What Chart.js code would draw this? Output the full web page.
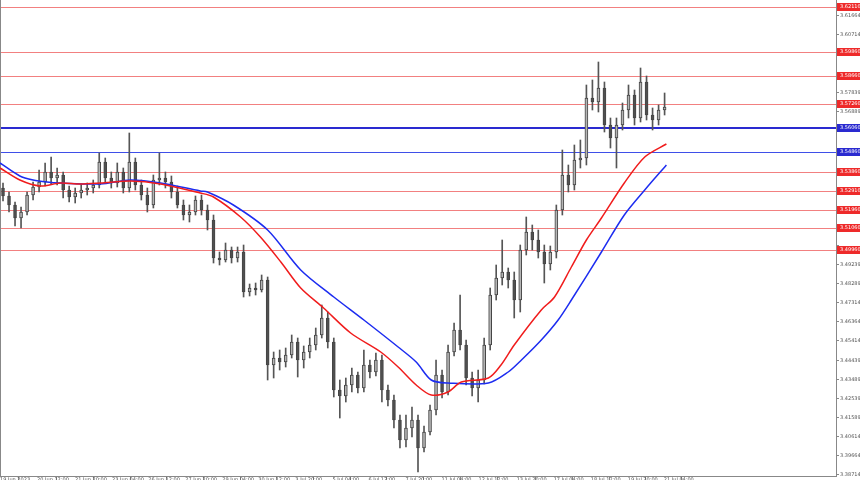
<!DOCTYPE html>
<html>
<head>
<meta charset="utf-8">
<script src="https://cdn.jsdelivr.net/npm/chart.js@4.4.0/dist/chart.umd.min.js"></script>
<style>
  html, body { margin: 0; padding: 0; background: #fff; }
  #wrap { width: 860px; height: 480px; }
</style>
</head>
<body>
<div id="wrap"><canvas id="chart" width="860" height="480"></canvas></div>
<script>
// candles, one per bar
const opens = [
  3.5306,3.5266,3.5221,3.5156,3.5186,3.5271,3.5311,3.5336,3.5386,3.5356,
  3.5371,3.5296,3.5261,3.5281,3.5296,3.5306,3.5321,3.5436,3.5356,3.5331,
  3.5386,3.5306,3.5436,3.5321,3.5271,3.5221,3.5346,3.5356,3.5336,3.5286,
  3.5221,3.5171,3.5186,3.5246,3.5196,3.5146,3.4956,3.4946,3.4996,3.4956,
  3.4986,3.4786,3.4806,3.4796,3.4846,3.4421,3.4456,3.4436,3.4471,3.4536,
  3.4446,3.4486,3.4521,3.4571,3.4656,3.4536,3.4296,3.4266,3.4321,3.4371,
  3.4306,3.4421,3.4386,3.4446,3.4296,3.4246,3.4146,3.4046,3.4106,3.4146,
  3.4006,3.4086,3.4196,3.4371,3.4286,3.4486,3.4596,3.4521,3.4356,3.4306,
  3.4346,3.4521,3.4771,3.4856,3.4886,3.4846,3.4746,3.4996,3.5086,3.5046,
  3.4986,3.4926,3.4986,3.5196,3.5371,3.5321,3.5446,3.5456,3.5756,3.5736,
  3.5806,3.5621,3.5556,3.5621,3.5696,3.5771,3.5656,3.5836,3.5671,3.5646,3.5696
];
const closes = [
  3.5266,3.5221,3.5156,3.5186,3.5271,3.5311,3.5336,3.5386,3.5356,3.5371,
  3.5296,3.5261,3.5281,3.5296,3.5306,3.5321,3.5436,3.5356,3.5331,3.5386,
  3.5306,3.5436,3.5321,3.5271,3.5221,3.5346,3.5356,3.5336,3.5286,3.5221,
  3.5171,3.5186,3.5246,3.5196,3.5146,3.4956,3.4946,3.4996,3.4956,3.4986,
  3.4786,3.4806,3.4796,3.4846,3.4421,3.4456,3.4436,3.4471,3.4536,3.4446,
  3.4486,3.4521,3.4571,3.4656,3.4536,3.4296,3.4266,3.4321,3.4371,3.4306,
  3.4421,3.4386,3.4446,3.4296,3.4246,3.4146,3.4046,3.4106,3.4146,3.4006,
  3.4086,3.4196,3.4371,3.4286,3.4486,3.4596,3.4521,3.4356,3.4306,3.4346,
  3.4521,3.4771,3.4856,3.4886,3.4846,3.4746,3.4996,3.5086,3.5046,3.4986,
  3.4926,3.4986,3.5196,3.5371,3.5321,3.5446,3.5456,3.5756,3.5736,3.5806,
  3.5621,3.5556,3.5621,3.5696,3.5771,3.5656,3.5836,3.5671,3.5646,3.5696,3.5711
];
const highs = [
  3.5331,3.5286,3.5236,3.5211,3.5286,3.5336,3.5396,3.5431,3.5461,3.5406,
  3.5386,3.5316,3.5306,3.5326,3.5331,3.5346,3.5481,3.5456,3.5386,3.5431,
  3.5406,3.5581,3.5456,3.5346,3.5306,3.5371,3.5481,3.5386,3.5366,3.5316,
  3.5246,3.5221,3.5266,3.5271,3.5221,3.5171,3.4986,3.5031,3.5011,3.5011,
  3.5021,3.4826,3.4831,3.4871,3.4861,3.4486,3.4496,3.4506,3.4571,3.4556,
  3.4516,3.4556,3.4606,3.4721,3.4686,3.4556,3.4346,3.4356,3.4406,3.4386,
  3.4496,3.4446,3.4481,3.4471,3.4321,3.4271,3.4171,3.4171,3.4211,3.4171,
  3.4116,3.4221,3.4446,3.4396,3.4521,3.4631,3.4771,3.4546,3.4386,3.4396,
  3.4556,3.4806,3.4921,3.5046,3.4906,3.4886,3.5021,3.5161,3.5121,3.5096,
  3.5021,3.5016,3.5221,3.5496,3.5421,3.5521,3.5546,3.5821,3.5846,3.5936,
  3.5836,3.5656,3.5656,3.5731,3.5821,3.5796,3.5906,3.5866,3.5706,3.5721,3.5781
];
const lows = [
  3.5241,3.5186,3.5116,3.5106,3.5171,3.5246,3.5286,3.5316,3.5326,3.5321,
  3.5256,3.5236,3.5231,3.5256,3.5271,3.5281,3.5306,3.5331,3.5306,3.5311,
  3.5281,3.5286,3.5296,3.5246,3.5186,3.5206,3.5321,3.5306,3.5256,3.5206,
  3.5146,3.5136,3.5171,3.5171,3.5096,3.4931,3.4921,3.4936,3.4931,3.4936,
  3.4761,3.4766,3.4771,3.4786,3.4346,3.4356,3.4396,3.4411,3.4456,3.4361,
  3.4406,3.4456,3.4496,3.4556,3.4506,3.4261,3.4156,3.4236,3.4286,3.4281,
  3.4286,3.4356,3.4366,3.4236,3.4216,3.4106,3.4006,3.4011,3.4061,3.3886,
  3.3986,3.4071,3.4171,3.4256,3.4271,3.4466,3.4496,3.4321,3.4266,3.4236,
  3.4326,3.4496,3.4746,3.4821,3.4806,3.4656,3.4686,3.4971,3.4996,3.4956,
  3.4831,3.4896,3.4956,3.5171,3.5286,3.5296,3.5406,3.5421,3.5696,3.5686,
  3.5586,3.5506,3.5406,3.5596,3.5656,3.5621,3.5636,3.5646,3.5596,3.5621,3.5671
];

// moving averages, points read at bar positions
const redMaX = [-0.5,2.8,6.2,9.5,12.8,16.2,21.2,26.2,32.8,35,39.5,42.8,46.2,49.5,53.3,57.8,62.8,65.7,68.7,71.2,74,76.2,80.7,82.8,85,89.5,91.7,94.5,97,99.5,103.3,106.7,110.3];
const redMa  = [3.5406,3.5346,3.5316,3.5331,3.5326,3.5331,3.5341,3.5326,3.5281,3.5261,3.5161,3.5061,3.4936,3.4806,3.4706,3.4581,3.4486,3.4411,3.4321,3.4271,3.4286,3.4336,3.4356,3.4421,3.4521,3.4696,3.4761,3.4911,3.5046,3.5156,3.5331,3.5461,3.5526];
const blueMaX = [-0.5,2.8,5,7.3,9.5,16.2,21.2,26.2,32.8,34,38.3,44,49.5,55,60,65.7,68.7,71.2,74,80.7,84,86.2,89.5,92.3,94.5,99.5,103.3,106.7,110.3];
const blueMa  = [3.5431,3.5366,3.5346,3.5336,3.5331,3.5326,3.5346,3.5331,3.5291,3.5286,3.5221,3.5096,3.4896,3.4761,3.4646,3.4511,3.4436,3.4346,3.4331,3.4331,3.4386,3.4446,3.4546,3.4646,3.4746,3.4986,3.5171,3.5296,3.5421];

// horizontal levels
const redLevels = [3.6211, 3.5986, 3.5866, 3.5726, 3.5386, 3.5291, 3.5196, 3.5106, 3.4996];
const blueLevels = [3.5606, 3.5486];

// axis ticks
const yTicks = [3.38714,3.39664,3.40614,3.41589,3.42539,3.43489,3.44439,3.45414,3.46364,3.47314,3.48289,3.49239,3.50189,3.51139,3.52114,3.53064,3.54014,3.54964,3.55939,3.56889,3.57839,3.58789,3.59764,3.60714,3.61664];
const xTickPos = [-0.5,5.66,11.99,18.14,24.14,30.3,36.46,42.45,48.61,54.77,60.76,66.92,72.91,79.07,85.4,91.56,97.72,103.88,109.87];
const xTickLabels = ['19 Jun 2023','20 Jun 12:00','21 Jun 20:00','23 Jun 04:00','26 Jun 12:00','27 Jun 20:00','29 Jun 04:00','30 Jun 12:00','3 Jul 20:00','5 Jul 04:00','6 Jul 12:00','7 Jul 20:00','11 Jul 04:00','12 Jul 12:00','13 Jul 20:00','17 Jul 04:00','18 Jul 12:00','19 Jul 20:00','21 Jul 04:00'];

const allLevels = redLevels.concat(blueLevels);

function hline(ctx, x1, x2, y, color, w) {
  ctx.strokeStyle = color;
  ctx.lineWidth = w;
  ctx.beginPath();
  ctx.moveTo(x1, y);
  ctx.lineTo(x2, y);
  ctx.stroke();
}

const levelsPlugin = {
  id: 'levels',
  beforeDatasetsDraw(chart) {
    const { ctx, chartArea: a, scales: { y } } = chart;
    ctx.save();
    redLevels.forEach(v => hline(ctx, a.left, a.right, Math.round(y.getPixelForValue(v)) + 0.5, '#f28080', 1));
    hline(ctx, a.left, a.right, Math.round(y.getPixelForValue(blueLevels[0])), '#2a2ad0', 2);
    hline(ctx, a.left, a.right, Math.round(y.getPixelForValue(blueLevels[1])) + 0.5, '#3f4fe8', 1);
    // left frame edge
    ctx.strokeStyle = '#888';
    ctx.lineWidth = 1;
    ctx.beginPath();
    ctx.moveTo(a.left + 0.5, a.top);
    ctx.lineTo(a.left + 0.5, a.bottom);
    ctx.stroke();
    ctx.restore();
  },
  afterDraw(chart) {
    const { ctx, chartArea: a, scales: { y } } = chart;
    ctx.save();
    ctx.font = '5px "DejaVu Sans"';
    ctx.textBaseline = 'middle';
    const box = (v, fill) => {
      const py = Math.round(y.getPixelForValue(v));
      ctx.fillStyle = fill;
      ctx.fillRect(a.right + 1, py - 4, 860 - a.right, 8);
      ctx.fillStyle = '#fff';
      ctx.fillText(v.toFixed(5), a.right + 4, py);
    };
    redLevels.forEach(v => box(v, '#ee2a2a'));
    blueLevels.forEach(v => box(v, '#2a2ad0'));
    ctx.restore();
  }
};

const ctx = document.getElementById('chart').getContext('2d');
new Chart(ctx, {
  type: 'bar',
  data: {
    datasets: [
      {
        type: 'line',
        data: redMaX.map((x, i) => ({ x: x, y: redMa[i] })),
        borderColor: '#f01c1c',
        borderWidth: 1.5,
        pointRadius: 0,
        tension: 0.3,
        order: 0
      },
      {
        type: 'line',
        data: blueMaX.map((x, i) => ({ x: x, y: blueMa[i] })),
        borderColor: '#1c2cf0',
        borderWidth: 1.5,
        pointRadius: 0,
        tension: 0.3,
        order: 0
      },
      {
        // bodies
        data: opens.map((o, i) => ({ x: i, y: [o, closes[i]] })),
        backgroundColor: opens.map((o, i) => closes[i] >= o ? '#b4b4b4' : '#505050'),
        borderColor: '#454545',
        borderWidth: 1,
        borderSkipped: false,
        barThickness: 3,
        grouped: false,
        order: 1
      },
      {
        // wicks
        data: lows.map((l, i) => ({ x: i, y: [l, highs[i]] })),
        backgroundColor: '#555555',
        borderWidth: 0,
        barThickness: 1,
        grouped: false,
        order: 2
      }
    ]
  },
  options: {
    responsive: false,
    animation: false,
    layout: { padding: 0 },
    plugins: { legend: { display: false }, tooltip: { enabled: false } },
    scales: {
      x: {
        type: 'linear',
        min: -0.5,
        max: 138.5,
        offset: false,
        grid: { drawOnChartArea: false, tickLength: 4, color: '#888' },
        border: { display: true, color: '#888' },
        ticks: {
          font: { family: 'DejaVu Sans', size: 5 },
          color: '#555',
          padding: -3,
          align: 'start',
          maxRotation: 0,
          autoSkip: false,
          callback: (v, i) => xTickLabels[i]
        },
        afterBuildTicks: s => { s.ticks = xTickPos.map(v => ({ value: v })); },
        afterFit: s => { s.height = 4; s.paddingLeft = 0; s.paddingRight = 0; }
      },
      y: {
        position: 'right',
        min: 3.3866,
        max: 3.6246,
        grid: { drawOnChartArea: false, tickLength: 3, color: '#888' },
        border: { display: true, color: '#888' },
        ticks: {
          font: { family: 'DejaVu Sans', size: 5 },
          color: '#555',
          padding: 1,
          autoSkip: false,
          callback: v => allLevels.some(l => Math.abs(l - v) < 0.003) ? '' : v.toFixed(5)
        },
        afterBuildTicks: s => { s.ticks = yTicks.map(v => ({ value: v })); },
        afterFit: s => { s.width = 24; s.paddingTop = 0; s.paddingBottom = 0; }
      }
    }
  },
  plugins: [levelsPlugin]
});
</script>
</body>
</html>
